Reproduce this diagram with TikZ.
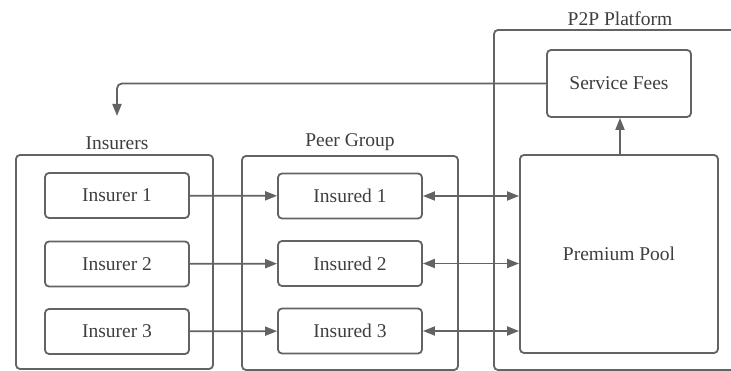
\documentclass[tikz,border=0pt]{standalone}
\usepackage{fontspec}
\setmainfont{Liberation Serif}
\usetikzlibrary{arrows.meta}
\definecolor{linegray}{HTML}{636363}
\definecolor{textgray}{HTML}{3F3F3F}
\tikzset{
  x=1pt, y=-1pt,
  every node/.style={text=textgray, font=\fontsize{19.5}{22}\selectfont},
  box/.style={draw=linegray, line width=1.8pt, rounded corners=4pt, fill=white,
    inner sep=0pt, minimum width=144pt, minimum height=45pt},
  group/.style={draw=linegray, line width=1.8pt, rounded corners=4pt,
    inner sep=0pt},
  grouptitle/.style={inner sep=0pt},
  conn/.style={draw=linegray, line width=1.8pt,
    -{Triangle[length=12pt,width=9pt]}},
  bothconn/.style={draw=linegray, line width=1.8pt,
    {Triangle[length=12pt,width=9pt]}-{Triangle[length=12pt,width=9pt]}},
}
\begin{document}
\begin{tikzpicture}
\useasboundingbox (0,0) rectangle (731,371);
\fill[white] (0,0) rectangle (731,371);

% group frames
\node[group, minimum width=197pt, minimum height=214pt] (insurers) at (114.5,262) {};
\node[group, minimum width=216pt, minimum height=214pt] (peers) at (350,263) {};
\node[group, minimum width=256pt, minimum height=340pt] (platform) at (622,200) {};

% group titles
\node[grouptitle] (insurerstitle) at (117,143) {Insurers};
\node[grouptitle] (peerstitle) at (350,142) {Peer Group};
\node[grouptitle] (platformtitle) at (620,19) {P2P Platform};

% insurers
\node[box] (ir1) at (117,195.5) {Insurer 1};
\node[box] (ir2) at (117,264) {Insurer 2};
\node[box] (ir3) at (117,331.5) {Insurer 3};

% insured peers
\node[box] (id1) at (350,196) {Insured 1};
\node[box] (id2) at (350,263.5) {Insured 2};
\node[box] (id3) at (350,331) {Insured 3};

% platform
\node[box, minimum height=67pt] (fees) at (619,83.5) {Service Fees};
\node[box, minimum width=198pt, minimum height=198pt] (pool) at (619,254) {Premium Pool};

% return point of the fee flow
\coordinate (feesend) at (117,116);

% connectors
\draw[conn] (ir1) -- (id1);
\draw[conn] (ir2) -- (id2);
\draw[conn] (ir3) -- (id3);
\draw[bothconn] (id1.east) -- (id1.east -| pool.west);
\draw[bothconn] (id2.east) -- (id2.east -| pool.west);
\draw[bothconn] (id3.east) -- (id3.east -| pool.west);
\draw[conn] (pool.north -| 620,0) -- (fees.south -| 620,0);
\draw[conn, rounded corners=5pt] (fees.west) -| (feesend);
\end{tikzpicture}
\end{document}
